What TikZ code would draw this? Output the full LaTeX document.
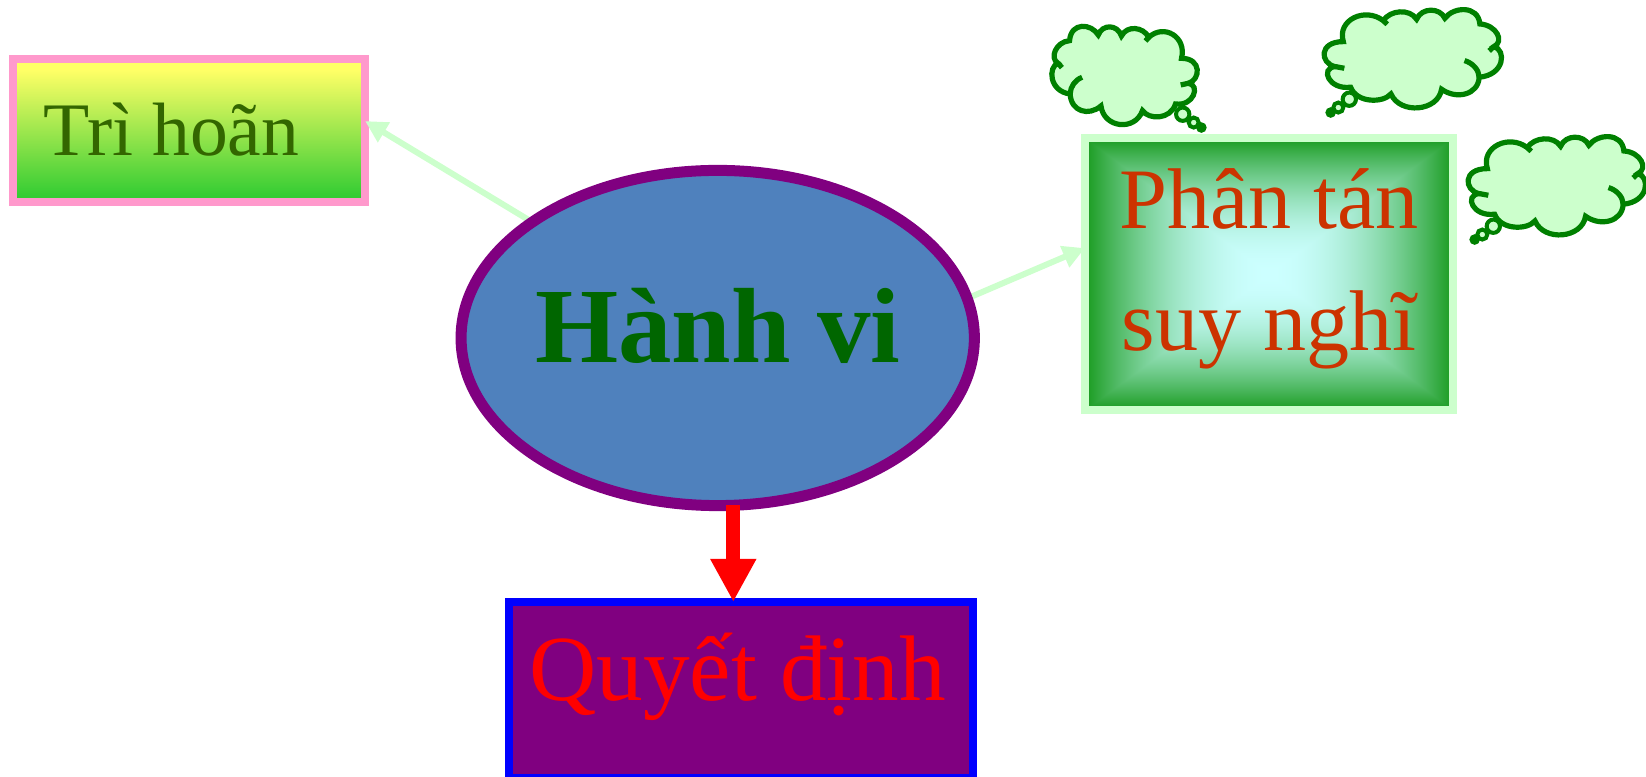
\documentclass[tikz,border=0pt]{standalone}
\usepackage{fontspec}
\setmainfont{Liberation Serif}
\usetikzlibrary{arrows.meta,backgrounds,shapes.geometric}

\definecolor{paleGreen}{HTML}{CCFFCC}
\definecolor{darkGreen}{HTML}{008000}
\definecolor{rosePink}{HTML}{FF99CC}
\definecolor{steelBlue}{HTML}{4F81BD}
\definecolor{boxPurple}{HTML}{800080}
\definecolor{topYellow}{HTML}{FFFF66}
\definecolor{lowGreen}{HTML}{33CC33}

\pgfdeclareverticalshading{dawnfade}{100bp}{color(0bp)=(lowGreen); color(27bp)=(lowGreen); color(71bp)=(topYellow); color(100bp)=(topYellow)}
\pgfdeclarefunctionalshading{boxglow}{\pgfpoint{-50bp}{-50bp}}{\pgfpoint{50bp}{50bp}}{}{
    abs exch abs 2 copy gt {pop} {exch pop} ifelse 25 div dup mul
    dup .706 mul .8 exch sub exch
    dup .396 mul 1 exch sub exch
    .882 mul 1 exch sub
}

\tikzset{
    softarrow/.style={draw=paleGreen, line width=.06cm, -{Triangle[length=.22cm,width=.22cm]}},
    puff/.style={draw=darkGreen, fill=paleGreen, line width=.04cm},
    thoughtcloud/.pic={
        \draw[darkGreen, fill=paleGreen, line width=.052cm] (85,125)
            .. controls (65,60) and (150,20) .. (205,62)
            .. controls (225,30) and (285,25) .. (305,58)
            .. controls (320,22) and (375,22) .. (390,55)
            .. controls (415,20) and (490,15) .. (495,72)
            .. controls (545,75) and (570,125) .. (537,140)
            .. controls (575,150) and (570,225) .. (493,232)
            .. controls (490,285) and (425,300) .. (380,268)
            .. controls (370,335) and (255,345) .. (228,282)
            .. controls (205,310) and (125,310) .. (107,262)
            .. controls (40,270) and (15,205) .. (60,200)
            .. controls (15,190) and (10,125) .. (85,125) -- cycle;
        % the short hooks that run on into the cloud
        \draw[darkGreen, line width=.052cm] (205,62) -- (217,73);
        \draw[darkGreen, line width=.052cm] (537,140) -- (523,153);
        \draw[darkGreen, line width=.052cm] (493,232) .. controls (492,210) and (475,190) .. (449,182);
        \draw[darkGreen, line width=.052cm] (60,200) -- (88,205);
    },
    thoughttail/.pic={
        \draw[puff] (103,298) circle (20);
        \draw[puff] (70,323) circle (15);
        \fill[darkGreen] (47,338) circle (16);
    }
}

\begin{document}
\begin{tikzpicture}[x=.01cm, y=-.01cm]
    \useasboundingbox (0,0) rectangle (1646,777);

    \node[ellipse, draw=boxPurple, line width=.11cm, fill=steelBlue, outer sep=0, inner ysep=0, inner xsep=-.1cm,
        minimum width=5.13cm, minimum height=3.35cm, text height=.72cm, text depth=.23cm,
        text=green!40!black, font=\fontsize{30.4}{36}\selectfont\bfseries] (hanhvi) at (717.7,338) {Hành vi};
    \node[rectangle, draw=paleGreen, line width=.08cm, shading=boxglow, outer sep=0, inner sep=0,
        minimum width=3.68cm, minimum height=2.72cm, align=center,
        text={rgb,255:red,204;green,51;blue,0}, font=\fontsize{24.5}{34.9}\selectfont] (phantan) at (1269,274)
        {Phân tán\\suy nghĩ\rule[-.29cm]{0pt}{.1cm}};
    \node[rectangle, draw=blue, line width=.08cm, fill=boxPurple, outer sep=0, inner sep=0,
        minimum width=4.64cm, minimum height=1.76cm, text height=.7cm, text depth=.5cm,
        text=red, font=\fontsize{26.5}{30}\selectfont] (quyetdinh) at (741,690) {Quyết định\kern.07cm};

    \begin{pgfonlayer}{background}
        \node[rectangle, draw=rosePink, line width=.08cm, shading=dawnfade, outer sep=0, inner sep=0,
            minimum width=3.52cm, minimum height=1.434cm, text height=.7cm, text depth=.19cm,
            text={rgb,255:red,51;green,102;blue,0}, font=\fontsize{21.5}{26}\selectfont] (trihoan) at (189,130.3) {Trì hoãn\kern.35cm};
        \draw[softarrow] (hanhvi.148.5) -- (trihoan.3.5);
        \draw[softarrow] (hanhvi.9.1) -- (phantan.172.7);
    \end{pgfonlayer}
    \draw[red, line width=.14cm, -{Triangle[length=.43cm,width=.43cm]}] (hanhvi.275 -| quyetdinh.95) -- (quyetdinh.95);

    % clouds, in thirds of a pixel of the page
    \pic[xscale=-.273, yscale=.333] at (1204.7,16.7) {thoughtcloud};
    \pic[xscale=-.333, yscale=.333] at (1217,15) {thoughttail};
    \pic[scale=.333] at (1315,0) {thoughtcloud};
    \pic[scale=.333] at (1315,0) {thoughttail};
    \pic[scale=.333] at (1459,127) {thoughtcloud};
    \pic[scale=.333] at (1459,127) {thoughttail};
\end{tikzpicture}
\end{document}
